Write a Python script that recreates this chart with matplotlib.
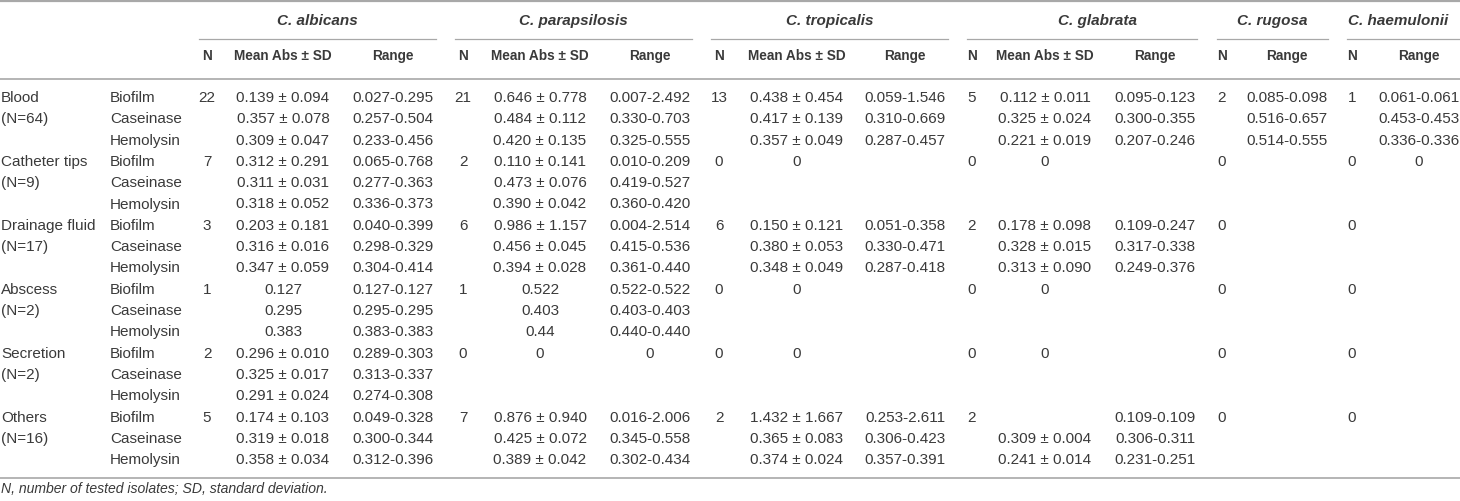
import matplotlib.pyplot as plt

sites = ['Blood', 'Catheter tips', 'Drainage fluid', 'Abscess', 'Secretion', 'Others']
site_totals = ['(N=64)', '(N=9)', '(N=17)', '(N=2)', '(N=2)', '(N=16)']
tests = ['Biofilm', 'Caseinase', 'Hemolysin']
species = ['C. albicans', 'C. parapsilosis', 'C. tropicalis', 'C. glabrata', 'C. rugosa', 'C. haemulonii']

# N per site (written on the Biofilm row)
albicans_n = ['22', '7', '3', '1', '2', '5']
parapsilosis_n = ['21', '2', '6', '1', '0', '7']
tropicalis_n = ['13', '0', '6', '0', '0', '2']
glabrata_n = ['5', '0', '2', '0', '0', '2']
rugosa_n = ['2', '0', '0', '0', '0', '0']
haemulonii_n = ['1', '0', '0', '0', '0', '0']

# one entry per site x test (Biofilm, Caseinase, Hemolysin)
albicans_mean = ['0.139 ± 0.094', '0.357 ± 0.078', '0.309 ± 0.047',
                 '0.312 ± 0.291', '0.311 ± 0.031', '0.318 ± 0.052',
                 '0.203 ± 0.181', '0.316 ± 0.016', '0.347 ± 0.059',
                 '0.127', '0.295', '0.383',
                 '0.296 ± 0.010', '0.325 ± 0.017', '0.291 ± 0.024',
                 '0.174 ± 0.103', '0.319 ± 0.018', '0.358 ± 0.034']
albicans_range = ['0.027-0.295', '0.257-0.504', '0.233-0.456',
                  '0.065-0.768', '0.277-0.363', '0.336-0.373',
                  '0.040-0.399', '0.298-0.329', '0.304-0.414',
                  '0.127-0.127', '0.295-0.295', '0.383-0.383',
                  '0.289-0.303', '0.313-0.337', '0.274-0.308',
                  '0.049-0.328', '0.300-0.344', '0.312-0.396']
parapsilosis_mean = ['0.646 ± 0.778', '0.484 ± 0.112', '0.420 ± 0.135',
                     '0.110 ± 0.141', '0.473 ± 0.076', '0.390 ± 0.042',
                     '0.986 ± 1.157', '0.456 ± 0.045', '0.394 ± 0.028',
                     '0.522', '0.403', '0.44',
                     '0', '', '',
                     '0.876 ± 0.940', '0.425 ± 0.072', '0.389 ± 0.042']
parapsilosis_range = ['0.007-2.492', '0.330-0.703', '0.325-0.555',
                      '0.010-0.209', '0.419-0.527', '0.360-0.420',
                      '0.004-2.514', '0.415-0.536', '0.361-0.440',
                      '0.522-0.522', '0.403-0.403', '0.440-0.440',
                      '0', '', '',
                      '0.016-2.006', '0.345-0.558', '0.302-0.434']
tropicalis_mean = ['0.438 ± 0.454', '0.417 ± 0.139', '0.357 ± 0.049',
                   '0', '', '',
                   '0.150 ± 0.121', '0.380 ± 0.053', '0.348 ± 0.049',
                   '0', '', '',
                   '0', '', '',
                   '1.432 ± 1.667', '0.365 ± 0.083', '0.374 ± 0.024']
tropicalis_range = ['0.059-1.546', '0.310-0.669', '0.287-0.457',
                    '', '', '',
                    '0.051-0.358', '0.330-0.471', '0.287-0.418',
                    '', '', '',
                    '', '', '',
                    '0.253-2.611', '0.306-0.423', '0.357-0.391']
glabrata_mean = ['0.112 ± 0.011', '0.325 ± 0.024', '0.221 ± 0.019',
                 '0', '', '',
                 '0.178 ± 0.098', '0.328 ± 0.015', '0.313 ± 0.090',
                 '0', '', '',
                 '0', '', '',
                 '', '0.309 ± 0.004', '0.241 ± 0.014']
glabrata_range = ['0.095-0.123', '0.300-0.355', '0.207-0.246',
                  '', '', '',
                  '0.109-0.247', '0.317-0.338', '0.249-0.376',
                  '', '', '',
                  '', '', '',
                  '0.109-0.109', '0.306-0.311', '0.231-0.251']
rugosa_range = ['0.085-0.098', '0.516-0.657', '0.514-0.555'] + [''] * 15
haemulonii_range = ['0.061-0.061', '0.453-0.453', '0.336-0.336',
                    '0', '', ''] + [''] * 12

footnote = 'N, number of tested isolates; SD, standard deviation.'

# column layout in pixels: N x, mean x, range x, title x, underline start/end
cols = [
    (albicans_n, albicans_mean, albicans_range, 207, 283, 393, 317, 199, 436),
    (parapsilosis_n, parapsilosis_mean, parapsilosis_range, 463, 540, 650, 573, 455, 692),
    (tropicalis_n, tropicalis_mean, tropicalis_range, 719, 797, 905, 830, 711, 948),
    (glabrata_n, glabrata_mean, glabrata_range, 972, 1045, 1155, 1097, 967, 1197),
    (rugosa_n, None, rugosa_range, 1222, None, 1287, 1272, 1217, 1328),
    (haemulonii_n, None, haemulonii_range, 1352, None, 1419, 1398, 1347, 1460),
]

plt.rcParams['font.family'] = ['Liberation Sans', 'DejaVu Sans']
txt = '#3a3a3a'
line_c = '#a8a8a8'
body = 11.0
head = 9.8

fig = plt.figure(figsize=(14.6, 5.01), dpi=100)
ax = fig.add_axes([0, 0, 1, 1])
ax.set_xlim(0, 1460)
ax.set_ylim(501, 0)
ax.axis('off')

row0 = 98
row_h = 21.3

# rules
ax.plot([0, 1460], [1, 1], color=line_c, lw=1.6)
ax.plot([0, 1460], [79, 79], color=line_c, lw=1.2)
ax.plot([0, 1460], [478, 478], color=line_c, lw=1.2)

for (n_list, mean_list, range_list, nx, mx, rx, tx, lx0, lx1), name in zip(cols, species):
    ax.text(tx, 21, name, ha='center', va='center', fontsize=11, fontweight='bold',
            fontstyle='italic', color=txt)
    ax.plot([lx0, lx1], [39, 39], color=line_c, lw=0.9)
    ax.text(nx, 56, 'N', ha='center', va='center', fontsize=head, fontweight='bold', color=txt)
    if mx is not None:
        ax.text(mx, 56, 'Mean Abs ± SD', ha='center', va='center', fontsize=head,
                fontweight='bold', color=txt)
    ax.text(rx, 56, 'Range', ha='center', va='center', fontsize=head, fontweight='bold', color=txt)

    for i in range(len(sites)):
        ax.text(nx, row0 + 3 * i * row_h, n_list[i], ha='center', va='center',
                fontsize=body, color=txt)
    for k in range(len(range_list)):
        y = row0 + k * row_h
        if mean_list is not None and mean_list[k]:
            ax.text(mx, y, mean_list[k], ha='center', va='center', fontsize=body, color=txt)
        if range_list[k]:
            ax.text(rx, y, range_list[k], ha='center', va='center', fontsize=body, color=txt)

for i, (site, tot) in enumerate(zip(sites, site_totals)):
    y = row0 + 3 * i * row_h
    ax.text(1, y, site, ha='left', va='center', fontsize=body, color=txt)
    ax.text(1, y + row_h, tot, ha='left', va='center', fontsize=body, color=txt)
    for j, t in enumerate(tests):
        ax.text(110, y + j * row_h, t, ha='left', va='center', fontsize=body, color=txt)

ax.text(1, 489, footnote, ha='left', va='center', fontsize=10.1, fontstyle='italic', color=txt)

fig.savefig('out.png', dpi=100)
